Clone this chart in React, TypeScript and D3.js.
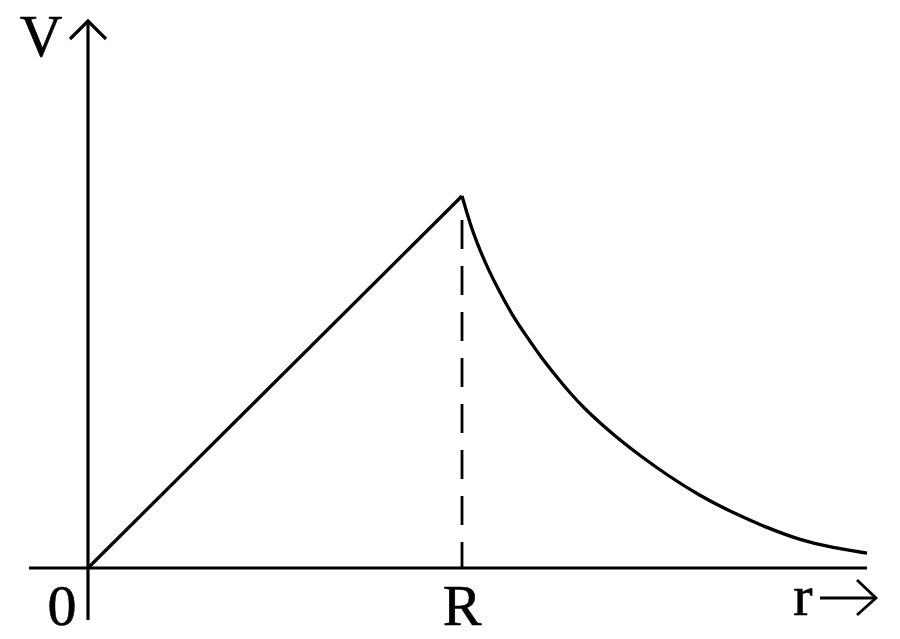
import React from "react";
import * as d3 from "d3";

// Inner region (linear rise) endpoints, in units of R and V(R)
const insideR = [0, 1];
const insideV = [0, 1];

// Outer region decay
const outsideR = [1.0, 1.021, 1.04, 1.067, 1.102, 1.136, 1.174, 1.211, 1.249, 1.289, 1.329, 1.369, 1.422, 1.476, 1.548, 1.636, 1.725, 1.816, 1.904, 1.992, 2.083];
const outsideV = [1.0, 0.927, 0.874, 0.809, 0.739, 0.677, 0.621, 0.567, 0.519, 0.47, 0.427, 0.39, 0.344, 0.302, 0.25, 0.194, 0.148, 0.108, 0.075, 0.054, 0.04];

const xLabels = ["0", "R"];
const xLabelValues = [0, 1];
const yAxisLabel = "V";
const xAxisLabel = "r";

const W = 900;
const H = 639;
const FONT = "'Liberation Serif', 'Times New Roman', serif";

export default function App() {
  const x = d3.scaleLinear().domain([0, 1]).range([88, 462]);
  const y = d3.scaleLinear().domain([0, 1]).range([568, 196]);

  const inside = insideR.map((r, i) => [r, insideV[i]] as [number, number]);
  const outside = outsideR.map((r, i) => [r, outsideV[i]] as [number, number]);

  const linear = d3.line<[number, number]>().x((d) => x(d[0])).y((d) => y(d[1]));
  const smooth = d3
    .line<[number, number]>()
    .x((d) => x(d[0]))
    .y((d) => y(d[1]))
    .curve(d3.curveBasis);

  const x0 = x(0);
  const y0 = y(0);
  const xR = x(1);

  const textProps = {
    fontFamily: FONT,
    fontSize: 58,
    textAnchor: "middle" as const,
    fill: "#000",
    stroke: "#000",
    strokeWidth: 0.6,
  };

  return (
    <svg
      width={W}
      height={H}
      style={{ position: "absolute", left: 0, top: 0, background: "#fff" }}
    >
      <rect width={W} height={H} fill="#fff" />
      {/* y axis */}
      <line x1={x0} y1={22} x2={x0} y2={620} stroke="#000" strokeWidth={3.2} />
      <path d={`M${x0 - 18},39 L${x0},21 L${x0 + 18},39`} fill="none" stroke="#000" strokeWidth={3.2} />
      {/* x axis */}
      <line x1={29} y1={y0} x2={867} y2={y0} stroke="#000" strokeWidth={3} />
      {/* dashed line at R */}
      <line
        x1={xR}
        y1={220}
        x2={xR}
        y2={y0}
        stroke="#000"
        strokeWidth={2.8}
        strokeDasharray="29 17"
      />
      {/* curves */}
      <path d={linear(inside) || ""} fill="none" stroke="#000" strokeWidth={3.3} strokeLinejoin="miter" />
      <path d={smooth(outside) || ""} fill="none" stroke="#000" strokeWidth={3.3} />
      {/* labels */}
      <text x={41} y={56} {...textProps} fontSize={59}>
        {yAxisLabel}
      </text>
      {xLabels.map((l, i) => (
        <text key={l} x={i === 0 ? 62 : x(xLabelValues[i])} y={625} {...textProps}>
          {l}
        </text>
      ))}
      <text x={803} y={615} {...textProps}>
        {xAxisLabel}
      </text>
      <line x1={820} y1={598} x2={875} y2={598} stroke="#000" strokeWidth={2.8} />
      <path d="M857,580 L876,598 L857,615" fill="none" stroke="#000" strokeWidth={2.8} />
    </svg>
  );
}
